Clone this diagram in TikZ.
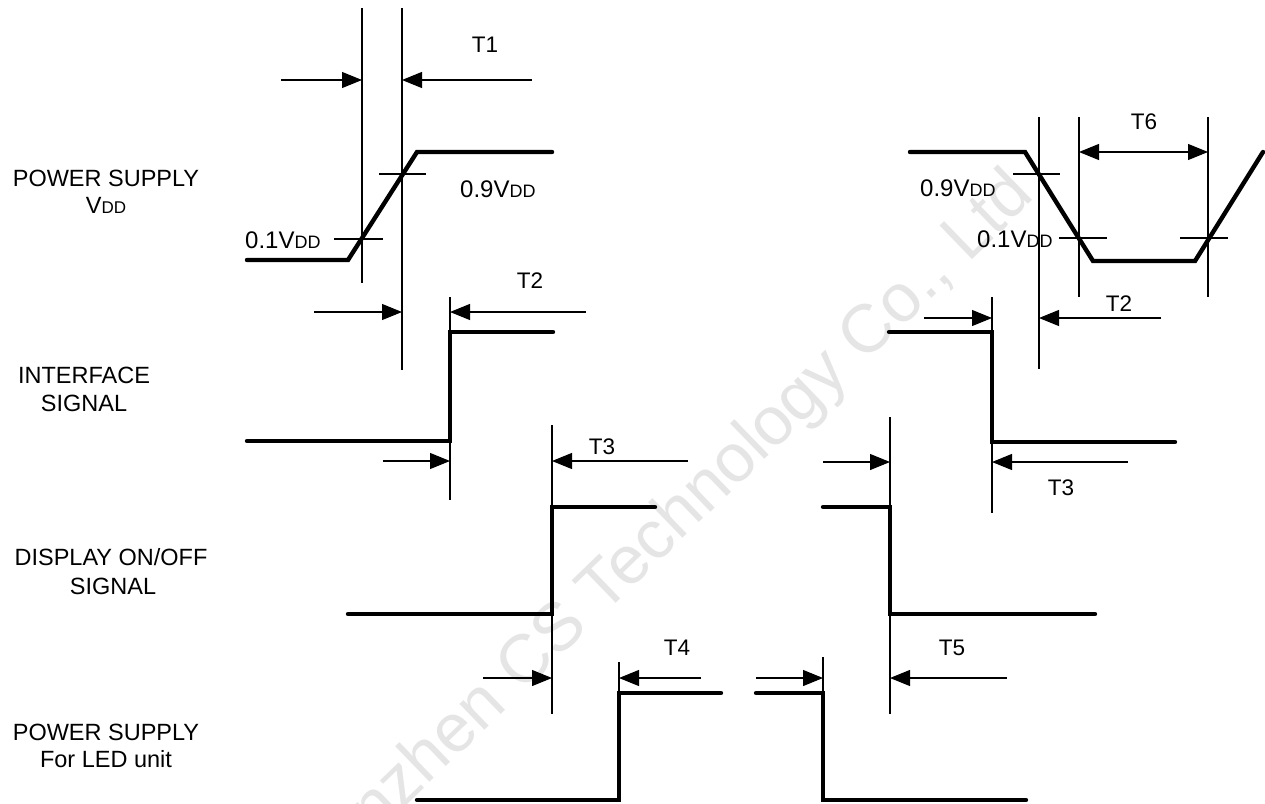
\documentclass[tikz,border=0pt]{standalone}
\usepackage{fontspec}
\setmainfont{Liberation Sans}
\usetikzlibrary{arrows.meta}
\newcommand{\bigV}[1]{{\fontsize{24}{24}\selectfont #1V}{\fontsize{18}{18}\selectfont DD}}
\begin{document}
\begin{tikzpicture}[x=1pt,y=-1pt,
  sig/.style={line width=4.4pt,line cap=round,line join=miter},
  guide/.style={line width=1.1pt},
  dimarrow/.style={line width=1.1pt,-{Triangle[length=20pt,width=16pt]}},
  dimboth/.style={line width=1.1pt,{Triangle[length=20pt,width=16pt]}-{Triangle[length=20pt,width=16pt]}},
  tlabel/.style={font=\fontsize{22.5}{22.5}\selectfont,inner sep=0pt},
  vlabel/.style={inner sep=0pt,anchor=base west},
  side/.style={font=\fontsize{23.5}{28}\selectfont,inner sep=0pt,anchor=base}]
\useasboundingbox (0,0) rectangle (1265,803);
\fill[white] (0,0) rectangle (1265,803);
% watermark
\begin{scope}
\clip (0,0) rectangle (1265,803);
\node[rotate=44,text=black!10,font=\fontsize{68}{68}\selectfont,inner sep=0pt] (wm) at (650,546) {Shenzhen CS Technology Co., Ltd};
\end{scope}
% ---- side labels
\node[side] (ps1) at (106,186) {POWER SUPPLY};
\node[side] (ps1b) at (106,213) {V{\fontsize{17}{17}\selectfont DD}};
\node[side] (if1) at (84,383) {INTERFACE};
\node[side] (if2) at (84,411) {SIGNAL};
\node[side] (dp1) at (111,565) {DISPLAY ON/OFF};
\node[side] (dp2) at (113,594) {SIGNAL};
\node[side] (led1) at (106,740) {POWER SUPPLY};
\node[side] (led2) at (106,767) {For LED unit};
% ---- row 1 left: VDD rising
\draw[sig] (247,260) -- (348,260) -- (417,152) -- (552,152);
\draw[guide] (362,8) -- (362,283);
\draw[guide] (402,8) -- (402,370);
\draw[guide] (379,174) -- (426,174);
\draw[guide] (334,239) -- (383,239);
\coordinate (a1s) at (281,80); \coordinate (a1e) at (362,80);
\coordinate (a2s) at (532,80); \coordinate (a2e) at (402,80);
\draw[dimarrow] (a1s) -- (a1e);
\draw[dimarrow] (a2s) -- (a2e);
\node[tlabel] (t1) at (485,45) {T1};
\node[vlabel] (v09a) at (460,197) {\bigV{0.9}};
\node[vlabel] (v01a) at (245,248) {\bigV{0.1}};
% ---- row 1 right: VDD falling
\draw[sig] (910,152) -- (1025,152) -- (1093,261) -- (1195,261) -- (1263,152);
\draw[guide] (1039,117) -- (1039,369);
\draw[guide] (1079,117) -- (1079,297);
\draw[guide] (1208,117) -- (1208,297);
\draw[guide] (1013,174) -- (1060,174);
\draw[guide] (1059,238) -- (1107,238);
\draw[guide] (1180,238) -- (1228,238);
\coordinate (t6s) at (1079,152); \coordinate (t6e) at (1208,152);
\draw[dimboth] (t6s) -- (t6e);
\node[tlabel] (t6) at (1144,122) {T6};
\node[vlabel] (v09b) at (920,196) {\bigV{0.9}};
\node[vlabel] (v01b) at (977,247) {\bigV{0.1}};
% ---- row 2 left: interface rising
\draw[sig] (247,441) -- (450,441) -- (450,332) -- (553,332);
\draw[guide] (450,297) -- (450,500);
\coordinate (b1s) at (314,312); \coordinate (b1e) at (402,312);
\coordinate (b2s) at (586,312); \coordinate (b2e) at (450,312);
\draw[dimarrow] (b1s) -- (b1e);
\draw[dimarrow] (b2s) -- (b2e);
\node[tlabel] (t2a) at (530,281) {T2};
\coordinate (c1s) at (383,461); \coordinate (c1e) at (450,461);
\draw[dimarrow] (c1s) -- (c1e);
% ---- row 2 right: interface falling
\draw[sig] (889,332) -- (992,332) -- (992,442) -- (1175,442);
\draw[guide] (992,297) -- (992,513);
\coordinate (b3s) at (924,318); \coordinate (b3e) at (992,318);
\coordinate (b4s) at (1161,318); \coordinate (b4e) at (1039,318);
\draw[dimarrow] (b3s) -- (b3e);
\draw[dimarrow] (b4s) -- (b4e);
\node[tlabel] (t2b) at (1119,304) {T2};
\coordinate (c4s) at (1128,462); \coordinate (c4e) at (992,462);
\draw[dimarrow] (c4s) -- (c4e);
\node[tlabel] (t3b) at (1061,488) {T3};
% ---- row 3 left: display rising
\draw[sig] (348,614) -- (552,614) -- (552,507) -- (655,507);
\draw[guide] (552,425) -- (552,714);
\coordinate (c2s) at (688,461); \coordinate (c2e) at (552,461);
\draw[dimarrow] (c2s) -- (c2e);
\node[tlabel] (t3a) at (602,447) {T3};
% ---- row 3 right: display falling
\draw[sig] (823,507) -- (890,507) -- (890,614) -- (1095,614);
\draw[guide] (890,417) -- (890,714);
\coordinate (c3s) at (823,462); \coordinate (c3e) at (890,462);
\draw[dimarrow] (c3s) -- (c3e);
% ---- row 4 left: LED rising
\draw[sig] (417,800) -- (619,800) -- (619,693) -- (721,693);
\draw[guide] (619,662) -- (619,693);
\coordinate (d1s) at (483,678); \coordinate (d1e) at (552,678);
\coordinate (d2s) at (701,678); \coordinate (d2e) at (619,678);
\draw[dimarrow] (d1s) -- (d1e);
\draw[dimarrow] (d2s) -- (d2e);
\node[tlabel] (t4) at (677,648) {T4};
% ---- row 4 right: LED falling
\draw[sig] (756,693) -- (823,693) -- (823,800) -- (1026,800);
\draw[guide] (823,657) -- (823,693);
\coordinate (d3s) at (756,678); \coordinate (d3e) at (823,678);
\coordinate (d4s) at (1007,678); \coordinate (d4e) at (890,678);
\draw[dimarrow] (d3s) -- (d3e);
\draw[dimarrow] (d4s) -- (d4e);
\node[tlabel] (t5) at (952,648) {T5};
\end{tikzpicture}
\end{document}
